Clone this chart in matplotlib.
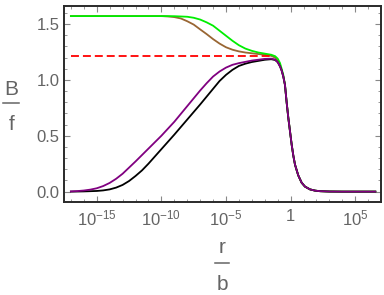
import numpy as np
import matplotlib
matplotlib.use('Agg')
import matplotlib.pyplot as plt
from matplotlib import ticker
from matplotlib.lines import Line2D

plt.rcParams['font.family'] = ['Liberation Sans', 'DejaVu Sans']
plt.rcParams['mathtext.fontset'] = 'custom'
plt.rcParams['mathtext.rm'] = 'Liberation Sans'
plt.rcParams['mathtext.it'] = 'Liberation Sans:italic'

# %% data (x as log10(r/b))
tail_x = [-0.44, -0.31, -0.18, -0.05, 0.08, 0.21, 0.34, 0.59, 0.85, 1.11,
          1.5, 1.89, 2.27, 3.0, 4.0, 5.0, 6.55]
tail_y = [0.956, 0.80, 0.66, 0.54, 0.42, 0.32, 0.24, 0.145, 0.08, 0.045,
          0.02, 0.009, 0.004, 0.001, 0.0, 0.0, 0.0]

black_x = [-17, -16, -15, -14.5, -14, -13.5, -13, -12.5, -12, -11.5, -11,
           -10, -9, -8, -7, -6, -5.5, -5, -4.5, -4, -3.5, -3, -2, -1.5, -1.2,
           -1.0, -0.82, -0.7, -0.57]
black_y = [0.0, 0.002, 0.006, 0.011, 0.02, 0.036, 0.06, 0.095, 0.14, 0.19,
           0.25, 0.38, 0.51, 0.645, 0.78, 0.92, 0.99, 1.045, 1.09, 1.125,
           1.145, 1.16, 1.18, 1.185, 1.178, 1.158, 1.12, 1.085, 1.03]

purple_x = [-17, -16.5, -16, -15.5, -15, -14.5, -14, -13.5, -13, -12.5, -12,
            -11, -10, -9, -8, -7, -6.5, -6, -5.5, -5, -4.5, -4, -3, -2, -1.5,
            -1.2, -1.0, -0.82, -0.7, -0.57]
purple_y = [0.002, 0.005, 0.01, 0.018, 0.03, 0.05, 0.078, 0.115, 0.16, 0.215,
            0.27, 0.385, 0.50, 0.625, 0.765, 0.905, 0.97, 1.03, 1.075, 1.11,
            1.135, 1.15, 1.173, 1.188, 1.19, 1.182, 1.16, 1.12, 1.085, 1.03]

green_x = [-17, -10, -9, -8, -7.5, -7, -6.5, -6, -5.5, -5, -4.5, -4, -3.5,
           -3, -2.5, -2, -1.5, -1.2, -1.0, -0.82, -0.7, -0.57]
green_y = [1.571, 1.571, 1.57, 1.565, 1.556, 1.54, 1.515, 1.485, 1.44, 1.395,
           1.35, 1.31, 1.28, 1.26, 1.245, 1.235, 1.225, 1.212, 1.19, 1.15,
           1.10, 1.045]

brown_x = [-17, -10, -9.5, -9, -8.5, -8, -7.5, -7, -6.5, -6, -5.5, -5, -4.5,
           -4, -3.5, -3, -2, -1.5, -1.2, -1.0, -0.82, -0.7, -0.57]
brown_y = [1.571, 1.571, 1.568, 1.562, 1.55, 1.525, 1.495, 1.452, 1.41, 1.365,
           1.325, 1.292, 1.27, 1.255, 1.245, 1.238, 1.225, 1.215, 1.2, 1.17,
           1.13, 1.09, 1.035]

red_x = [-17, -1.6]
red_y = [1.213, 1.213]

xticks = [1e-15, 1e-10, 1e-5, 1, 1e5]
xticklabels = [r'$\mathregular{10^{-15}}$', r'$\mathregular{10^{-10}}$',
               r'$\mathregular{10^{-5}}$', '1', r'$\mathregular{10^{5}}$']


def curve(xs, ys, with_tail=True):
    xs = list(xs) + (tail_x if with_tail else [])
    ys = list(ys) + (tail_y if with_tail else [])
    return 10.0 ** np.array(xs), np.array(ys)


# %% plotting
GREY = '#646464'
fig = plt.figure(figsize=(3.84, 2.95), dpi=100)
ax = fig.add_axes([0.1654, 0.3163, 0.8268, 0.6644])

ax.plot(*curve(brown_x, brown_y), color='#996633', lw=1.3)
ax.plot(*curve(green_x, green_y), color='#00ee00', lw=1.3)
ax.plot(*curve(black_x, black_y), color='black', lw=1.3)
ax.plot(*curve(purple_x, purple_y), color='#800080', lw=1.3)
ax.plot(*curve(red_x, red_y, with_tail=False), color='red', lw=1.3,
        dashes=(4.4, 2.2))

ax.set_xscale('log')
ax.set_xlim(10 ** -17.57, 10 ** 6.99)
ax.set_ylim(-0.09, 1.664)

ax.xaxis.set_major_locator(ticker.FixedLocator(xticks))
ax.xaxis.set_major_formatter(ticker.FixedFormatter(xticklabels))
minor = [10.0 ** k for k in range(-17, 7) if k % 5 != 0]
ax.xaxis.set_minor_locator(ticker.FixedLocator(minor))
ax.xaxis.set_minor_formatter(ticker.NullFormatter())
ax.yaxis.set_major_locator(ticker.MultipleLocator(0.5))
ax.yaxis.set_minor_locator(ticker.MultipleLocator(0.1))
ax.yaxis.set_major_formatter(ticker.StrMethodFormatter('{x:.1f}'))

ax.tick_params(which='both', direction='in', top=True, right=True,
               color='#888888', labelcolor=GREY, labelsize=12)
ax.tick_params(which='major', length=4, width=0.8)
ax.tick_params(which='minor', length=2, width=0.6)
ax.tick_params(axis='x', pad=5)
ax.tick_params(axis='y', pad=3)
for s in ax.spines.values():
    s.set_color('#2a2a2a')
    s.set_linewidth(1.4)

# fraction style axis labels, B/f and r/b
W, H = 384.0, 295.0
def ftext(x, y, s):
    fig.text(x / W, 1 - y / H, s, ha='center', va='baseline',
             color=GREY, fontsize=15)
def fbar(x0, x1, y):
    fig.add_artist(Line2D([x0 / W, x1 / W], [1 - y / H, 1 - y / H],
                          color=GREY, lw=1.1, transform=fig.transFigure))

ftext(11.3, 95, 'B')
fbar(3.3, 19.3, 103)
ftext(11.3, 130, 'f')

ftext(222, 253, 'r')
fbar(214.7, 229.3, 263.3)
ftext(222, 290, 'b')

fig.savefig('out.png', dpi=100)
